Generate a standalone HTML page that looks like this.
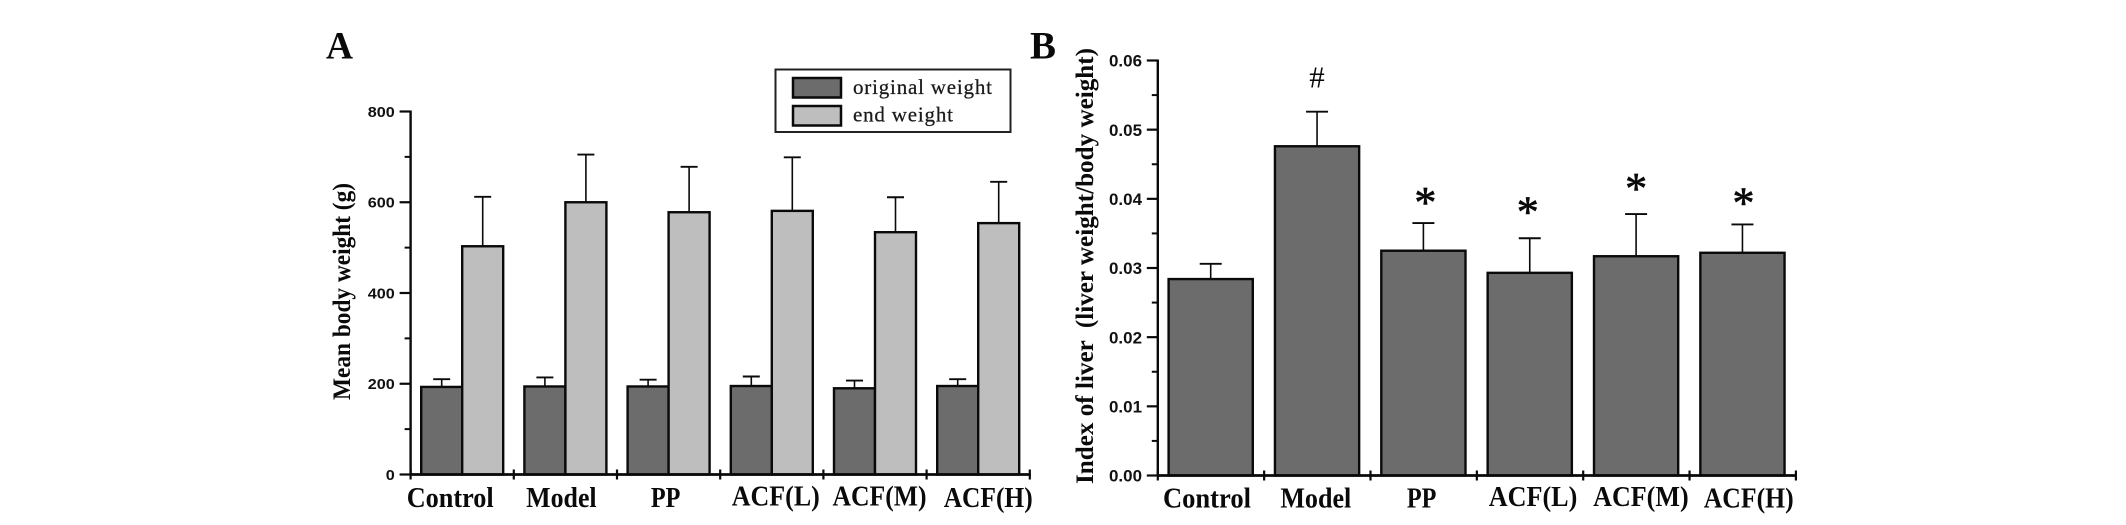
<!DOCTYPE html>
<html lang="en">
<head>
<meta charset="utf-8">
<title>Body weight and liver index bar charts</title>
<style>
html,body{margin:0;padding:0;background:#fff;}
body{width:2126px;height:525px;overflow:hidden;}
svg{display:block;}
.serif{font-family:"Liberation Serif",serif;font-weight:bold;fill:#0a0a0a;}
.sans{font-family:"Liberation Sans",sans-serif;font-weight:bold;fill:#111;}
</style>
</head>
<body>
<svg id="fig" xmlns="http://www.w3.org/2000/svg" width="2126" height="525" viewBox="0 0 2126 525">
  <text class="serif" x="326" y="58.5" font-size="39" textLength="27" lengthAdjust="spacingAndGlyphs">A</text>
  <text class="serif" x="1030" y="58.5" font-size="39" textLength="26" lengthAdjust="spacingAndGlyphs">B</text>
  <text class="serif" transform="translate(350,400) rotate(-90)" x="0" y="0" font-size="25" textLength="217" lengthAdjust="spacingAndGlyphs">Mean body weight (g)</text>
  <text class="serif" transform="translate(1093,484) rotate(-90)" x="0" y="0" font-size="25" textLength="436" lengthAdjust="spacingAndGlyphs" xml:space="preserve">Index of liver  (liver weight/body weight)</text>
  <g>
    <rect x="775.5" y="69.5" width="235" height="62.5" fill="#fff" stroke="#222" stroke-width="2"/>
    <rect x="793" y="78" width="48" height="19.5" fill="#6c6c6c" stroke="#0a0a0a" stroke-width="2.5"/>
    <rect x="793" y="106" width="48" height="19.5" fill="#bebebe" stroke="#0a0a0a" stroke-width="2.5"/>
    <text x="853" y="94" font-family="Liberation Serif, serif" font-size="21" fill="#1a1a1a" stroke="#1a1a1a" stroke-width="0.25" textLength="139" lengthAdjust="spacing">original weight</text>
    <text x="853" y="121.5" font-family="Liberation Serif, serif" font-size="21" fill="#1a1a1a" stroke="#1a1a1a" stroke-width="0.25" textLength="100" lengthAdjust="spacing">end weight</text>
  </g>
  <g id="panelA"></g>
  <g id="panelB"></g>
</svg>
<script>
const categories = ['Control', 'Model', 'PP', 'ACF(L)', 'ACF(M)', 'ACF(H)'];

const originalWeight = [193, 194, 194, 195, 190, 195];
const originalWeightTop = [210, 214, 209, 216, 207, 210];
const endWeight = [503, 600, 578, 581, 534, 554];
const endWeightTop = [612, 705, 678, 699, 611, 645];
const weightTicks = ['0', '200', '400', '600', '800'];

const liverIndex = [0.0284, 0.0476, 0.0325, 0.0293, 0.0317, 0.0322];
const liverIndexTop = [0.0306, 0.0526, 0.0365, 0.0343, 0.0378, 0.0363];
const liverTicks = ['0.00', '0.01', '0.02', '0.03', '0.04', '0.05', '0.06'];
const liverMarks = ['', '#', '*', '*', '*', '*'];

const NS = 'http://www.w3.org/2000/svg';

function make(parent, tag, attrs, content) {
  const el = document.createElementNS(NS, tag);
  for (const k in attrs) el.setAttribute(k, attrs[k]);
  if (content !== undefined) el.textContent = content;
  parent.appendChild(el);
  return el;
}

function slug(s) {
  return s.toLowerCase().replace(/[^a-z0-9]+/g, '-').replace(/-$/, '');
}

const DARK = '#6c6c6c';
const LIGHT = '#bebebe';
const INK = '#0a0a0a';

/* Panel layout */
const A = { left: 410.6, group: 103.2, base: 474.5, top: 111.5, max: 800 };
const B = { left: 1157.8, group: 106.35, base: 475.5, top: 60.5, max: 0.06 };

const xA = i => A.left + A.group * i;
const yA = v => A.base - (v / A.max) * (A.base - A.top);
const xB = i => B.left + B.group * i;
const yB = v => B.base - (v / B.max) * (B.base - B.top);

/* Horizontal label tweaks relative to each group's centre, and label widths */
const labelShiftA = [-12, -4, -3, 4, 4.5, 10];
const labelWidthA = [87, 70.5, 29.5, 88, 94, 89];
const labelShiftB = [-4, -1.5, -2, 3, 4.5, 6];
const labelWidthB = [88, 71, 29.5, 88.5, 95.5, 90];
const labelDrop = [0, 0, 0, -1.5, -1.5, 0];

/* Gap between an error cap and the baseline of its significance mark */
const markGap = [0, 24, 6, 12, 11, 7];
const markShift = [0, 0, 2, -2, 0, 1];

function drawAxes(g, cfg, yFn, ticks, tickMax, key, tickRight, tickSize, tickWidth) {
  const n = categories.length;
  const xEnd = cfg.left + cfg.group * n;

  const yAxis = make(g, 'line', { x1: cfg.left, x2: cfg.left, y1: cfg.top - 1, y2: cfg.base + 1, stroke: INK, 'stroke-width': 2.4 });
  
  

  const xAxis = make(g, 'line', { x1: cfg.left, x2: xEnd + 1, y1: cfg.base, y2: cfg.base, stroke: INK, 'stroke-width': 2.8 });
  
  

  ticks.forEach((label, i) => {
    const v = tickMax * i / (ticks.length - 1);
    const y = yFn(v);
    const t = make(g, 'line', { x1: cfg.left - 11, x2: cfg.left, y1: y, y2: y, stroke: INK, 'stroke-width': 2.2 });
    
    

    const lab = make(g, 'text', { class: 'sans', x: tickRight - tickWidth * label.length, y: y + tickSize * 0.36, 'font-size': tickSize, textLength: tickWidth * label.length, lengthAdjust: 'spacingAndGlyphs' }, label);
    
    

    if (i < ticks.length - 1) {
      const my = yFn(v + tickMax / (ticks.length - 1) / 2);
      const m = make(g, 'line', { x1: cfg.left - 6, x2: cfg.left, y1: my, y2: my, stroke: INK, 'stroke-width': 2 });
      
      
    }
  });

  for (let i = 0; i <= n; i++) {
    const x = cfg.left + cfg.group * i;
    const t = make(g, 'line', { x1: x, x2: x, y1: cfg.base - 5, y2: cfg.base + 5, stroke: INK, 'stroke-width': 2.2 });
    
    
  }
}

function drawBar(g, x, w, yTop, yBase, yErr, fill, capHalf, name) {
  const stem = make(g, 'line', { x1: x + w / 2, x2: x + w / 2, y1: yErr, y2: yTop, stroke: INK, 'stroke-width': 1.6 });
  
  

  const cap = make(g, 'line', { x1: x + w / 2 - capHalf, x2: x + w / 2 + capHalf, y1: yErr, y2: yErr, stroke: INK, 'stroke-width': 1.9 });
  
  

  const bar = make(g, 'rect', { x: x, y: yTop, width: w, height: yBase - yTop, fill: fill, stroke: INK, 'stroke-width': 2.4 });
  
  
}

function drawCategoryLabels(g, cfg, key, shifts, widths, baseline) {
  categories.forEach((c, i) => {
    const cx = cfg.left + cfg.group * (i + 0.5) + shifts[i];
    const lab = make(g, 'text', { class: 'serif', x: cx - widths[i] / 2, y: baseline + labelDrop[i], 'font-size': 28, textLength: widths[i], lengthAdjust: 'spacingAndGlyphs' }, c);
    
    
  });
}

/* Panel A */
const gA = document.getElementById('panelA');
categories.forEach((c, i) => {
  const x0 = xA(i) + 10.6;
  drawBar(gA, x0, 41, yA(originalWeight[i]), A.base, yA(originalWeightTop[i]), DARK, 8.5, 'bar-original-' + slug(c));
  drawBar(gA, x0 + 41, 41, yA(endWeight[i]), A.base, yA(endWeightTop[i]), LIGHT, 8.5, 'bar-end-' + slug(c));
});
drawAxes(gA, A, yA, weightTicks, A.max, 'a', 394.8, 15, 9);
drawCategoryLabels(gA, A, 'a', labelShiftA, labelWidthA, 507);

/* Panel B */
const gB = document.getElementById('panelB');
categories.forEach((c, i) => {
  const x0 = xB(i) + 10.8;
  drawBar(gB, x0, 84.2, yB(liverIndex[i]), B.base, yB(liverIndexTop[i]), DARK, 11, 'bar-liver-' + slug(c));

  if (liverMarks[i]) {
    const isHash = liverMarks[i] === '#';
    const mark = make(gB, 'text', {
      x: x0 + 42.1 + markShift[i],
      y: yB(liverIndexTop[i]) - markGap[i],
      'text-anchor': 'middle',
      'font-family': 'Liberation Serif, serif',
      'font-size': isHash ? 31 : 44,
      fill: INK,
      stroke: INK,
      'stroke-width': isHash ? 0 : 0.7
    }, liverMarks[i]);
    
    
  }
});
drawAxes(gB, B, yB, liverTicks, B.max, 'b', 1142, 17, 8.25);
drawCategoryLabels(gB, B, 'b', labelShiftB, labelWidthB, 507.5);
</script>
</body>
</html>
